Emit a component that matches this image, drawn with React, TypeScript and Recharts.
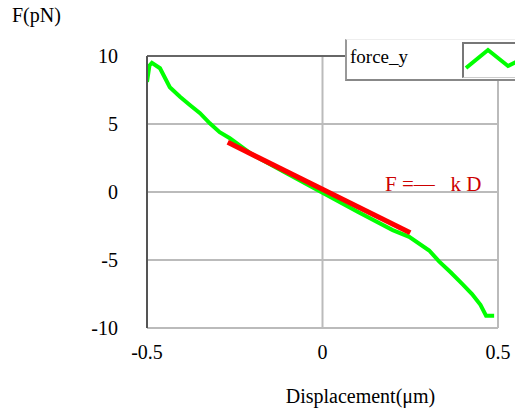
import React from 'react';
import { LineChart, Line, XAxis, YAxis, CartesianGrid, Legend, ReferenceLine, Label } from 'recharts';

const displacement = [
  -0.5, -0.493, -0.486, -0.463, -0.435, -0.406, -0.378, -0.349, -0.321, -0.293, -0.264,
  -0.2, -0.1, 0, 0.1, 0.2, 0.247, 0.304, 0.332, 0.365, 0.398, 0.426, 0.45, 0.466, 0.489,
];
const forceY = [
  8.1, 9.3, 9.5, 9.1, 7.7, 7.0, 6.4, 5.8, 5.05, 4.4, 3.95,
  2.75, 1.35, -0.05, -1.45, -2.8, -3.3, -4.3, -5.1, -5.9, -6.75, -7.5, -8.3, -9.1, -9.1,
];
const fitX = [-0.27, 0.25];
const fitF = [3.65, -3.0];

const xTicks = [-0.5, 0, 0.5];
const yTicks = [-10, -5, 0, 5, 10];

const forceData = displacement.map((d, i) => ({ d, f: forceY[i] }));
const fitData = fitX.map((d, i) => ({ d, f: fitF[i] }));

const serif = '"Liberation Serif", "Times New Roman", serif';

const LegendBox = () => (
  <div
    style={{
      width: 170,
      height: 39,
      background: '#fff',
      borderLeft: '2px solid #999',
      borderBottom: '2px solid #888',
      borderTop: '1px solid #eee',
      position: 'relative',
      fontFamily: serif,
      fontSize: 19,
      color: '#000',
      boxSizing: 'content-box',
    }}
  >
    <span style={{ position: 'absolute', left: 3, top: 6 }}>force_y</span>
    <div
      style={{
        position: 'absolute',
        left: 115,
        top: 2,
        width: 60,
        height: 33,
        borderTop: '2px solid #777',
        borderLeft: '2px solid #777',
        borderBottom: '1px solid #ccc',
      }}
    >
      <svg width={60} height={33}>
        <polyline points="2,24 24,6 44,22 60,14" fill="none" stroke="#00ff00" strokeWidth={4} />
      </svg>
    </div>
  </div>
);

export default function App() {
  return (
    <div style={{ position: 'absolute', left: 0, top: 0, width: 515, height: 410, background: '#fff' }}>
      <LineChart width={515} height={410} margin={{ top: 15, right: 17, left: 0, bottom: 0 }}>
        <CartesianGrid stroke="#bbbbbb" strokeWidth={2} />
        <XAxis
          dataKey="d"
          type="number"
          domain={[-0.5, 0.5]}
          ticks={xTicks}
          allowDataOverflow
          height={82}
          axisLine={false}
          tickLine={false}
          tickSize={6}
          tickMargin={11}
          tick={{ fill: '#000', fontSize: 20, fontFamily: serif }}
        >
          <Label
            value="Displacement(μm)"
            position="insideBottom"
            offset={7}
            dx={38}
            style={{ fill: '#000', fontSize: 20, fontFamily: serif }}
          />
        </XAxis>
        <YAxis
          dataKey="f"
          type="number"
          domain={[-10, 10]}
          ticks={yTicks}
          width={147}
          axisLine={{ stroke: '#555', strokeWidth: 2 }}
          tickLine={false}
          tickSize={6}
          tickMargin={23}
          tick={{ fill: '#000', fontSize: 20, fontFamily: serif }}
        />
        <ReferenceLine y={10} stroke="#666" strokeWidth={2} />
        <Legend
          verticalAlign="top"
          content={() => <LegendBox />}
          wrapperStyle={{ position: 'absolute', left: 345, top: 39, width: 172, height: 41 }}
        />
        <Line
          data={forceData}
          dataKey="f"
          type="linear"
          stroke="#00ff00"
          strokeWidth={4}
          dot={false}
          isAnimationActive={false}
        />
        <Line
          data={fitData}
          dataKey="f"
          type="linear"
          stroke="#ff0000"
          strokeWidth={5}
          dot={false}
          legendType="none"
          isAnimationActive={false}
        />
      </LineChart>
      <div style={{ position: 'absolute', left: 12, top: 4, fontFamily: serif, fontSize: 20, color: '#000' }}>
        F(pN)
      </div>
      <div
        style={{
          position: 'absolute',
          left: 385,
          top: 172,
          fontFamily: serif,
          fontSize: 21,
          color: '#cc0000',
          whiteSpace: 'pre',
        }}
      >
        {'F =—   k D'}
      </div>
    </div>
  );
}
